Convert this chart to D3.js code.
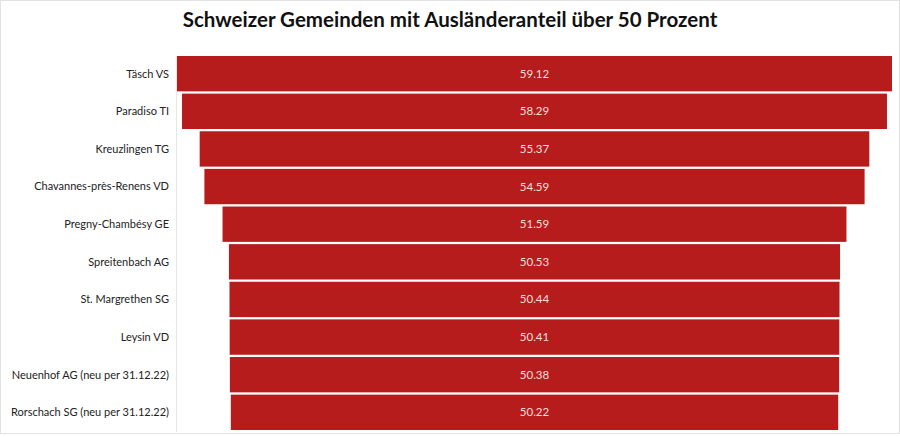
<!DOCTYPE html>
<html lang="de">
<head>
<meta charset="UTF-8" />
<title>Schweizer Gemeinden mit Ausländeranteil über 50 Prozent</title>
<script src="https://d3js.org/d3.v7.min.js"></script>
<style>
  body { margin: 0; background: #fff; font-family: Lato, "Open Sans", sans-serif; }
  text { font-family: Lato, "Open Sans", sans-serif; }
</style>
</head>
<body>
<div id="chart"></div>
<script>
const gemeinden = [
  "Täsch VS", "Paradiso TI", "Kreuzlingen TG", "Chavannes-près-Renens VD",
  "Pregny-Chambésy GE", "Spreitenbach AG", "St. Margrethen SG", "Leysin VD",
  "Neuenhof AG (neu per 31.12.22)", "Rorschach SG (neu per 31.12.22)"
];
const anteil = [59.12, 58.29, 55.37, 54.59, 51.59, 50.53, 50.44, 50.41, 50.38, 50.22];

const width = 900, height = 437;
const margin = { top: 56, right: 8, bottom: 7, left: 177 };
const center = margin.left + (width - margin.left - margin.right) / 2;

const svg = d3.select("#chart").append("svg")
  .attr("width", width)
  .attr("height", height);

// outer frame
svg.append("rect")
  .attr("x", 0.5).attr("y", 0.5)
  .attr("width", width - 1).attr("height", height - 4)
  .attr("fill", "none").attr("stroke", "#e2e2e2");

svg.append("text")
  .attr("x", 450).attr("y", 27)
  .attr("text-anchor", "middle")
  .attr("font-size", 20.5)
  .attr("font-weight", "bold")
  .attr("fill", "#111")
  .text("Schweizer Gemeinden mit Ausländeranteil über 50 Prozent");

const y = d3.scaleBand()
  .domain(gemeinden)
  .range([margin.top, height - margin.bottom])
  .paddingInner(0.06);

const w = d3.scaleLinear()
  .domain([0, d3.max(anteil)])
  .range([0, width - margin.left - margin.right]);

const data = gemeinden.map((g, i) => ({ name: g, value: anteil[i] }));

// axis line
svg.append("line")
  .attr("x1", margin.left - 0.5).attr("x2", margin.left - 0.5)
  .attr("y1", margin.top).attr("y2", height - margin.bottom + 2)
  .attr("stroke", "#e6e6e6");

svg.append("g")
  .selectAll("rect")
  .data(data)
  .join("rect")
  .attr("x", d => center - w(d.value) / 2)
  .attr("y", d => y(d.name))
  .attr("width", d => w(d.value))
  .attr("height", y.bandwidth())
  .attr("fill", "#b71c1c");

svg.append("g")
  .selectAll("text")
  .data(data)
  .join("text")
  .attr("x", center)
  .attr("y", d => y(d.name) + y.bandwidth() / 2)
  .attr("dy", "0.35em")
  .attr("text-anchor", "middle")
  .attr("font-size", 11.5)
  .attr("fill", "#f8dede")
  .text(d => d.value.toFixed(2));

svg.append("g")
  .selectAll("text")
  .data(data)
  .join("text")
  .attr("x", 169)
  .attr("y", d => y(d.name) + y.bandwidth() / 2)
  .attr("dy", "0.35em")
  .attr("text-anchor", "end")
  .attr("font-size", 11)
  .attr("fill", "#222")
  .text(d => d.name);
</script>
</body>
</html>
